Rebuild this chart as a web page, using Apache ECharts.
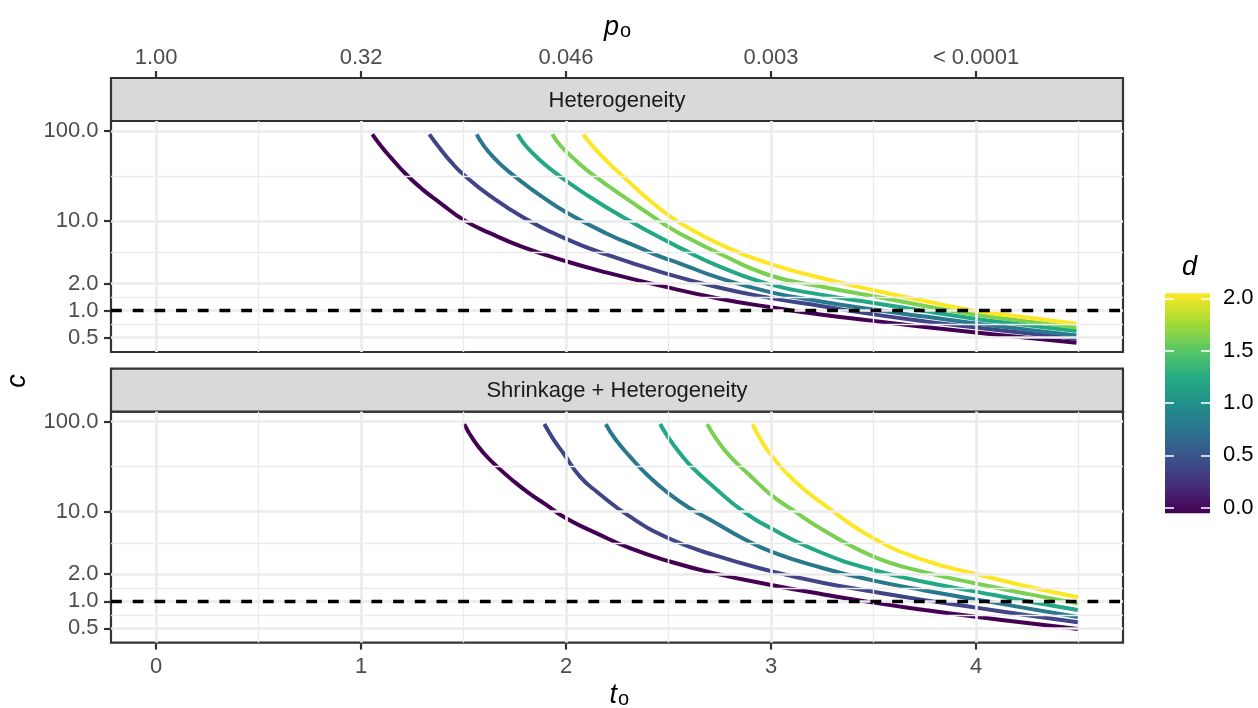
<!DOCTYPE html>
<html><head><meta charset="utf-8">
<script src="https://cdn.jsdelivr.net/npm/echarts@6/dist/echarts.min.js"></script>
<style>html,body{margin:0;padding:0;background:#fff}#c{width:1258px;height:708px}</style>
</head><body><div id="c"></div>
<script>
// ---------- data ----------
const dValues = [0, 0.4, 0.8, 1.2, 1.6, 2.0];
const curveColors = ['#440154', '#414487', '#2A788E', '#22A884', '#7AD151', '#FDE725'];
const panelNames = ['Heterogeneity', 'Shrinkage + Heterogeneity'];
const xTicks = [0, 1, 2, 3, 4];
const xTickLabels = ['0', '1', '2', '3', '4'];
const pTickLabels = ['1.00', '0.32', '0.046', '0.003', '< 0.0001'];
const yTicks = [0.5, 1, 2, 10, 100];
const yTickLabels = ['0.5', '1.0', '2.0', '10.0', '100.0'];
const yMinor = [0.707, 1.414, 4.47, 31.6];
const xMinor = [0.5, 1.5, 2.5, 3.5, 4.5];
const refLine = 1;
const legendTicks = [0, 0.5, 1, 1.5, 2];
const legendTickLabels = ['0.0', '0.5', '1.0', '1.5', '2.0'];

// Heterogeneity panel: t_o and c for each d
const het_d00_t = [1.055, 1.10, 1.141, 1.223, 1.304, 1.385, 1.502, 1.629, 1.79, 2.0, 2.2, 2.46, 2.75, 3.0, 3.25, 3.5, 3.75, 4.0, 4.25, 4.49];
const het_d00_c = [92, 67, 52, 32.4, 22, 15.9, 10.2, 7.3, 5.1, 3.55, 2.65, 1.9, 1.36, 1.09, 0.9, 0.77, 0.66, 0.57, 0.5, 0.44];
const het_d04_t = [1.333, 1.385, 1.44, 1.502, 1.629, 1.79, 2.0, 2.2, 2.46, 2.75, 3.0, 3.25, 3.5, 3.75, 4.0, 4.25, 4.49];
const het_d04_c = [92, 64, 45, 32.4, 19, 11, 6.3, 4.2, 2.7, 1.8, 1.38, 1.12, 0.91, 0.76, 0.65, 0.56, 0.485];
const het_d08_t = [1.564, 1.60, 1.65, 1.71, 1.80, 1.87, 2.0, 2.2, 2.36, 2.46, 2.556, 2.75, 3.0, 3.25, 3.5, 3.75, 4.0, 4.25, 4.49];
const het_d08_c = [92, 68, 50, 37, 25.5, 19.5, 12.5, 7.2, 5.0, 4.0, 3.35, 2.3, 1.6, 1.26, 1.03, 0.86, 0.72, 0.615, 0.53];
const het_d12_t = [1.764, 1.80, 1.87, 1.95, 2.0, 2.1, 2.2, 2.36, 2.46, 2.556, 2.75, 3.0, 3.25, 3.5, 3.75, 4.0, 4.25, 4.49];
const het_d12_c = [92, 70, 48, 34, 28, 19.5, 14, 8.6, 6.5, 5.0, 3.1, 1.95, 1.5, 1.22, 0.99, 0.81, 0.69, 0.594];
const het_d16_t = [1.933, 1.97, 2.035, 2.1, 2.2, 2.36, 2.46, 2.556, 2.75, 3.0, 3.25, 3.5, 3.75, 4.0, 4.25, 4.49];
const het_d16_c = [92, 70, 50, 37, 25, 14, 9.8, 7.2, 4.3, 2.45, 1.85, 1.45, 1.13, 0.9, 0.76, 0.65];
const het_d20_t = [2.084, 2.12, 2.2, 2.28, 2.36, 2.46, 2.556, 2.75, 3.0, 3.25, 3.5, 3.75, 4.0, 4.25, 4.49];
const het_d20_c = [92, 72, 46, 31, 21, 13.5, 9.5, 5.5, 3.3, 2.3, 1.69, 1.28, 0.99, 0.84, 0.716];

// Shrinkage + Heterogeneity panel
const shr_d00_t = [1.503, 1.55, 1.60, 1.662, 1.75, 1.824, 1.9, 2.0, 2.15, 2.312, 2.5, 2.72, 3.0, 3.25, 3.5, 3.75, 4.0, 4.25, 4.497];
const shr_d00_c = [94, 61.7, 44.2, 31.8, 21.2, 15.7, 12.0, 8.4, 5.7, 3.9, 2.8, 2.06, 1.52, 1.2, 0.966, 0.8, 0.673, 0.573, 0.49];
const shr_d04_t = [1.894, 1.94, 1.987, 2.068, 2.15, 2.312, 2.5, 2.72, 3.0, 3.25, 3.5, 3.75, 4.0, 4.25, 4.497];
const shr_d04_c = [94, 62.8, 44.5, 24.4, 16.6, 8.75, 5.03, 3.28, 2.17, 1.61, 1.28, 1.03, 0.85, 0.70, 0.585];
const shr_d08_t = [2.194, 2.24, 2.312, 2.4, 2.5, 2.6, 2.72, 2.85, 3.0, 3.25, 3.5, 3.75, 4.0, 4.25, 4.497];
const shr_d08_c = [94, 64, 40.8, 25, 15.9, 11, 7.7, 5.2, 3.57, 2.35, 1.70, 1.32, 1.05, 0.834, 0.67];
const shr_d12_t = [2.459, 2.50, 2.556, 2.62, 2.719, 2.85, 3.0, 3.25, 3.5, 3.75, 4.0, 4.25, 4.497];
const shr_d12_c = [94, 66, 44.5, 30.3, 18.9, 10.6, 6.5, 3.45, 2.23, 1.64, 1.28, 1.0, 0.8];
const shr_d16_t = [2.689, 2.73, 2.8, 2.9, 3.0, 3.1, 3.25, 3.5, 3.75, 4.0, 4.25, 4.497];
const shr_d16_c = [94, 65.6, 41, 24.8, 15.3, 10.6, 6.3, 3.15, 2.11, 1.58, 1.21, 0.95];
const shr_d20_t = [2.91, 2.946, 3.0, 3.109, 3.272, 3.5, 3.75, 4.0, 4.25, 4.497];
const shr_d20_c = [94, 65, 42.6, 22.4, 11.3, 5.03, 2.85, 2.01, 1.46, 1.11];

const hetCurves = [[het_d00_t, het_d00_c], [het_d04_t, het_d04_c], [het_d08_t, het_d08_c],
                   [het_d12_t, het_d12_c], [het_d16_t, het_d16_c], [het_d20_t, het_d20_c]];
const shrCurves = [[shr_d00_t, shr_d00_c], [shr_d04_t, shr_d04_c], [shr_d08_t, shr_d08_c],
                   [shr_d12_t, shr_d12_c], [shr_d16_t, shr_d16_c], [shr_d20_t, shr_d20_c]];

// ---------- layout ----------
const FONT = '"Liberation Sans", Arial, Helvetica, sans-serif';
const PL = 111, PW = 1012, PH = 231;
const P1T = 121, P2T = 411.6;
const STRIP_H = 43;
const XMIN = -0.22, XMAX = 4.717;
const YMIN = -0.46, YMAX = 2.112;
const L10 = v => Math.log10(v);

const chart = echarts.init(document.getElementById('c'), null, {renderer: 'canvas'});

function lbl(vals, labels) {
  return v => { let best = 0; for (let i = 1; i < vals.length; i++) if (Math.abs(vals[i] - v) < Math.abs(vals[best] - v)) best = i; return labels[best]; };
}
const yLog = yTicks.map(L10);

const grids = [
  {left: PL, top: P1T, width: PW, height: PH, show: true, borderColor: '#333333', borderWidth: 2.2, backgroundColor: '#fff'},
  {left: PL, top: P2T, width: PW, height: PH, show: true, borderColor: '#333333', borderWidth: 2.2, backgroundColor: '#fff'},
  {left: 1165, top: 293.3, width: 45, height: 220, show: false}
];

const axisTextStyle = {fontFamily: FONT, fontSize: 22, color: '#4D4D4D'};
const TICK = {color: '#333333', width: 2.2};
const xAxes = [
  {gridIndex: 0, type: 'value', min: XMIN, max: XMAX, show: false},
  {gridIndex: 0, type: 'value', min: XMIN, max: XMAX, position: 'top', offset: STRIP_H,
   axisLine: {show: false, onZero: false}, splitLine: {show: false},
   axisTick: {show: true, customValues: xTicks, length: 7, lineStyle: TICK},
   axisLabel: Object.assign({customValues: xTicks, margin: 9, formatter: lbl(xTicks, pTickLabels)}, axisTextStyle)},
  {gridIndex: 1, type: 'value', min: XMIN, max: XMAX, position: 'bottom',
   axisLine: {show: false, onZero: false}, splitLine: {show: false},
   axisTick: {show: true, customValues: xTicks, length: 7, lineStyle: TICK},
   axisLabel: Object.assign({customValues: xTicks, margin: 13, formatter: lbl(xTicks, xTickLabels)}, axisTextStyle)},
  {gridIndex: 2, type: 'value', min: 0, max: 1, show: false}
];
function yAxisFor(g) {
  return {gridIndex: g, type: 'value', min: YMIN, max: YMAX, position: 'left',
    axisLine: {show: false, onZero: false}, splitLine: {show: false},
    axisTick: {show: true, customValues: yLog, length: 7, lineStyle: TICK},
    axisLabel: Object.assign({customValues: yLog, margin: 12.5, padding: [4, 0, 0, 0], formatter: lbl(yLog, yTickLabels)}, axisTextStyle)};
}
const LEG_TICK = {color: 'rgba(255,255,255,0.85)', width: 1.8};
const yAxes = [
  yAxisFor(0), yAxisFor(1),
  {gridIndex: 2, type: 'value', min: -0.0535, max: 2.048, position: 'right', z: 10,
   axisLine: {show: false, onZero: false}, splitLine: {show: false},
   axisTick: {show: true, inside: true, customValues: legendTicks, length: 9, lineStyle: LEG_TICK},
   axisLabel: {customValues: legendTicks, margin: 13, padding: [4, 0, 0, 0], formatter: lbl(legendTicks, legendTickLabels), fontFamily: FONT, fontSize: 22, color: '#000'}},
  {gridIndex: 2, type: 'value', min: -0.0535, max: 2.048, position: 'left', z: 10,
   axisLine: {show: false, onZero: false}, splitLine: {show: false},
   axisTick: {show: true, inside: true, customValues: legendTicks, length: 9, lineStyle: LEG_TICK},
   axisLabel: {show: false}}
];

const series = [];
const MAJ = {color: '#EBEBEB', width: 2.7, type: 'solid'};
const MIN = {color: '#EBEBEB', width: 1.35, type: 'solid'};
[0, 1].forEach(g => {
  const xi = g === 0 ? 0 : 2;
  const ml = [];
  yMinor.forEach(v => ml.push({yAxis: L10(v), lineStyle: MIN}));
  xMinor.forEach(v => ml.push({xAxis: v, lineStyle: MIN}));
  yTicks.forEach(v => ml.push({yAxis: L10(v), lineStyle: MAJ}));
  xTicks.forEach(v => ml.push({xAxis: v, lineStyle: MAJ}));
  series.push({type: 'line', xAxisIndex: xi, yAxisIndex: g, data: [], z: 1, silent: true,
    markLine: {silent: true, symbol: ['none', 'none'], label: {show: false}, animation: false, data: ml}});
  const curves = g === 0 ? hetCurves : shrCurves;
  curves.forEach((cv, i) => {
    series.push({type: 'line', name: panelNames[g] + ' d=' + dValues[i], xAxisIndex: xi, yAxisIndex: g,
      data: cv[0].map((t, k) => [t, L10(cv[1][k])]),
      showSymbol: false, smooth: 0.5, z: 3, silent: true,
      lineStyle: {color: curveColors[i], width: 4, cap: 'butt'}});
  });
  series.push({type: 'line', xAxisIndex: xi, yAxisIndex: g, data: [], z: 5, silent: true,
    markLine: {silent: true, symbol: ['none', 'none'], label: {show: false}, animation: false,
      data: [{yAxis: L10(refLine), lineStyle: {color: '#000', width: 3.3, type: [10.8, 10.9]}}]}});
});
// colourbar
series.push({type: 'line', xAxisIndex: 3, yAxisIndex: 2, data: [], z: 2, silent: true,
  markArea: {silent: true, data: [[{xAxis: 0, yAxis: -0.0535}, {xAxis: 1, yAxis: 2.048}]],
    itemStyle: {color: new echarts.graphic.LinearGradient(0, 0, 0, 1, [
      {offset: 0, color: '#FDE725'}, {offset: 0.125, color: '#AADC32'}, {offset: 0.25, color: '#5DC863'},
      {offset: 0.375, color: '#27AD81'}, {offset: 0.5, color: '#21908C'}, {offset: 0.625, color: '#2C728E'},
      {offset: 0.75, color: '#3B528B'}, {offset: 0.875, color: '#472D7B'}, {offset: 1, color: '#440154'}])}}});

const graphic = [];
[[78, P1T - 78], [P2T - STRIP_H, STRIP_H]].forEach((s, i) => {
  graphic.push({type: 'rect', z: 5, shape: {x: PL, y: s[0], width: PW, height: s[1]},
    style: {fill: '#D9D9D9', stroke: '#333333', lineWidth: 2.2}});
  graphic.push({type: 'text', z: 6, x: PL + PW / 2, y: s[0] + s[1] / 2 + 1,
    style: {text: panelNames[i], fontFamily: FONT, fontSize: 22, fill: '#1A1A1A', align: 'center', verticalAlign: 'middle'}});
});
function title(x, y, main, sub, rot) {
  return {type: 'group', x: x, y: y, rotation: rot || 0, children: [
    {type: 'text', x: 0, y: 0, style: {text: main, fontFamily: FONT, fontSize: 27, fontStyle: 'italic', fill: '#000', align: sub ? 'right' : 'center', verticalAlign: 'middle'}},
    sub ? {type: 'text', x: 1, y: 4, style: {text: sub, fontFamily: FONT, fontSize: 20, fill: '#000', align: 'left', verticalAlign: 'middle'}} : {type: 'text', style: {text: ''}}
  ]};
}
graphic.push(title(619, 27, 'p', 'o'));
graphic.push(title(617, 695, 't', 'o'));
graphic.push(title(17, 381, 'c', null, Math.PI / 2));
graphic.push({type: 'text', x: 1182, y: 267, style: {text: 'd', fontFamily: FONT, fontSize: 27, fontStyle: 'italic', fill: '#000', align: 'left', verticalAlign: 'middle'}});

chart.setOption({animation: false, backgroundColor: '#fff', grid: grids, xAxis: xAxes, yAxis: yAxes, series: series, graphic: graphic});
</script></body></html>
